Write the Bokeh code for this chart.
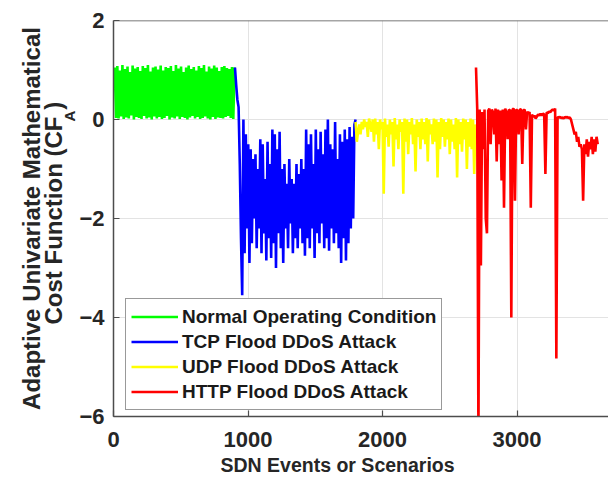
import numpy as np
from bokeh.plotting import figure
from bokeh.models import Range1d, Span, Legend, LegendItem, Title
from bokeh.embed import file_html
from bokeh.resources import INLINE

# ---- data ----
green_start, green_end = 0, 900
green = [0.62, 1.05, 0.03, 1.08, 0.02, 0.99, 0.06, 1.10, 0.01, 1.02, 0.04, 1.07, 0.02, 0.96, 0.08,
         1.09, 0.00, 1.03, 0.05, 1.06, 0.03, 0.98, 0.01, 1.08, 0.07, 1.04, 0.02, 1.10, 0.04, 0.97,
         0.00, 1.05, 0.06, 1.07, 0.02, 1.01, 0.05, 1.09, 0.01, 0.99, 0.03, 1.06, 0.07, 1.04, 0.00,
         1.08, 0.04, 0.98, 0.02, 1.10, 0.06, 1.03, 0.01, 1.07, 0.05, 0.96, 0.03, 1.05, 0.00, 1.09,
         0.04, 1.02, 0.07, 1.06, 0.02, 0.99, 0.05, 1.08, 0.01, 1.04, 0.03, 1.10, 0.06, 0.97, 0.02,
         1.07, 0.00, 1.03, 0.05, 1.09, 0.01, 1.05, 0.04, 0.98, 0.03, 1.06, 0.02, 1.08, 0.05, 1.04,
         0.07, 1.02, 0.03, 1.06, 0.01, 1.05]

blue_start, blue_end = 903, 1800
blue = [1.05, 0.7, 0.4, 0.25, -0.9, -2.4, -3.55,
        0.0, -2.7, -0.3, -2.2, -0.5,
        -2.9, -0.6, -2.5, -0.8, -2.0, -0.7, -2.6, -1.0, -2.2,
        -0.4, -2.7, -0.5, -2.3, -1.2, -2.85, -0.45, -2.4, -0.9,
        -2.8, -0.2, -2.5, -0.3, -3.0, -0.6, -2.3, -0.25, -2.6,
        -1.0, -2.9, -0.9, -2.2, -1.3, -2.6, -0.8, -2.1, -1.2,
        -2.7, -1.3, -2.4, -0.9, -2.6, -1.1, -2.2, -0.8, -2.5, -1.0, -2.75,
        -0.2, -2.4, -0.5, -2.6, -0.3, -2.2, -0.9, -2.8, -0.2,
        -2.3, -0.6, -2.5, -0.25, -2.1, -0.7, -2.6, -0.2, -2.4,
        0.0, -2.65, -0.5, -2.2, -0.6, -2.5, -0.05, -2.3, -0.8,
        -2.6, -0.3, -2.9, -0.45, -2.4, -0.2, -2.85, -0.4, -2.5,
        -0.15, -2.2, -0.35, -2.0, -0.1, 0.0]

yellow_start, yellow_end = 1800, 2700
yellow = [-0.05, -0.45, -0.25, -0.1, -0.3, -0.05, -0.2, 0.0, -0.15, -0.05, -0.35, 0.02, -0.1,
          -0.25, 0.0, -0.45, 0.02, -0.3, -0.05, -0.6, 0.0, -0.2, -0.05, -1.5, 0.02, -0.35, -0.1,
          -0.55, 0.0, -0.3, -0.05, -0.95, 0.03, -0.4, -0.1, -0.6, 0.0, -0.25, -0.05, -1.5, 0.02,
          -0.45, 0.0, -0.7, -0.05, -0.3, 0.03, -0.5, -0.1, -1.05, 0.0, -0.35, -0.05, -0.6, 0.02,
          -0.4, -0.05, -0.5, 0.03, -0.85, 0.0, -0.3, -0.1, -0.5, 0.02, -0.45, 0.0, -1.17, -0.05,
          -0.6, 0.03, -0.35, 0.0, -0.55, -0.05, -0.4, 0.02, -0.7, 0.0, -0.45, -0.1, -0.6, 0.03,
          -1.17, 0.0, -0.5, -0.05, -0.65, 0.02, -0.4, 0.0, -1.0, -0.05, -0.55, 0.02, -0.6, 0.0,
          -1.1, -0.1, -0.5]

red_start, red_end = 2695, 3600
red = [1.05, 0.22, -6.5, 0.2, -2.95, 0.15, -0.6, 0.2, -2.0, -2.3,
       0.18, 0.22, -0.5, 0.2, 0.15, -0.3, 0.22, -0.85, 0.2, -0.5,
       0.18, -1.23, 0.2, -1.78, 0.22, 0.15, -0.4, 0.2, 0.18, -4.0,
       0.2, 0.22, -1.64, 0.2, 0.18, -0.3, 0.2, 0.21, -0.9, 0.18,
       0.2, -0.2, 0.16, 0.12, 0.15, -1.78, 0.1, 0.05, 0.08, 0.02,
       0.06, 0.1, 0.08, 0.12, 0.08, 0.12, 0.1, -1.1, 0.14, 0.13,
       0.16, 0.15, 0.18, 0.2, 0.18, 0.22, -4.83, 0.05, 0.04, 0.05,
       0.03, 0.04, 0.02, 0.05, 0.04, 0.05, 0.03, 0.04, 0.0, -0.1,
       -0.2, -0.3, -0.25, -0.45, -0.35, -0.55, -0.5, -0.6, -1.64, -0.5,
       -0.7, -0.4, -0.75, -0.45, -0.6, -0.35, -0.7, -0.4, -0.65, -0.35,
       -0.5]

series_labels = ["Normal Operating Condition", "TCP Flood DDoS Attack",
                 "UDP Flood DDoS Attack", "HTTP Flood DDoS Attack"]
x_ticks = [0, 1000, 2000, 3000]
y_ticks = [-6, -4, -2, 0, 2]

# ---- figure ----
FONT = "Liberation Sans"
TXT = "#262626"
AX = "#4d4d4d"

p = figure(width=608, height=483, output_backend="svg", toolbar_location=None,
           x_range=Range1d(0, 3680), y_range=Range1d(-6, 2),
           min_border_left=113, min_border_right=0, min_border_top=20, min_border_bottom=67)
p.outline_line_color = None
p.background_fill_color = "white"

segments = [
    (green_start, green_end, green, "#00ff00"),
    (blue_start, blue_end, blue, "#0000ff"),
    (yellow_start, yellow_end, yellow, "#ffff00"),
    (red_start, red_end, red, "#ff0000"),
]
renderers = []
for (s, e, vals, col) in segments:
    xs = np.linspace(s, e, len(vals))
    r = p.line(xs, vals, line_color=col, line_width=2.6)
    renderers.append(r)

# axes
for ax in (p.xaxis[0], p.yaxis[0]):
    ax.axis_line_color = AX
    ax.axis_line_width = 1.5
    ax.major_tick_line_color = AX
    ax.major_tick_line_width = 1.2
    ax.major_tick_in = 6
    ax.major_tick_out = 0
    ax.minor_tick_line_color = None
    ax.major_label_text_font = FONT
    ax.major_label_text_font_style = "bold"
    ax.major_label_text_font_size = "22px"
    ax.major_label_text_color = TXT
p.xaxis.ticker = x_ticks
p.yaxis.ticker = y_ticks
p.xaxis.major_label_standoff = 15
p.yaxis.major_label_standoff = 9

p.xgrid.grid_line_color = "#e3e3e3"
p.ygrid.grid_line_color = "#e3e3e3"
p.xgrid.grid_line_width = 1
p.ygrid.grid_line_width = 1

# top frame line
p.add_layout(Span(location=2, dimension="width", line_color=AX, line_width=1.5))

# legend
items = [LegendItem(label=lab, renderers=[r]) for lab, r in zip(series_labels, renderers)]
legend = Legend(items=items, location=(12, 6))
legend.glyph_width = 47
legend.glyph_height = 25
legend.label_height = 25
legend.label_standoff = 4
legend.padding = 5
legend.spacing = 0
legend.margin = 0
legend.label_text_font = FONT
legend.label_text_font_style = "bold"
legend.label_text_font_size = "19px"
legend.label_text_color = "#1a1a1a"
legend.border_line_color = "#333333"
legend.border_line_width = 1.3
legend.background_fill_alpha = 1.0
p.add_layout(legend)

# x axis label
p.add_layout(Title(text="SDN Events or Scenarios", align="left", offset=107, standoff=4,
                   text_font=FONT, text_font_style="bold", text_font_size="19.5px",
                   text_color=TXT), "below")

# y axis label (two lines, subscript A in its own column next to the axis)
p.add_layout(Title(text="A", align="left", offset=295, standoff=-2,
                   text_font=FONT, text_font_style="bold", text_font_size="15px",
                   text_color=TXT), "left")
p.add_layout(Title(text="Cost Function (CF  )", align="left", offset=92, standoff=-15,
                   text_font=FONT, text_font_style="bold", text_font_size="24px",
                   text_color=TXT), "left")
p.add_layout(Title(text="Adaptive Univariate Mathematical", align="center", standoff=2,
                   text_font=FONT, text_font_style="bold", text_font_size="24px",
                   text_color=TXT), "left")

open("out.html", "w").write(file_html(p, INLINE))
